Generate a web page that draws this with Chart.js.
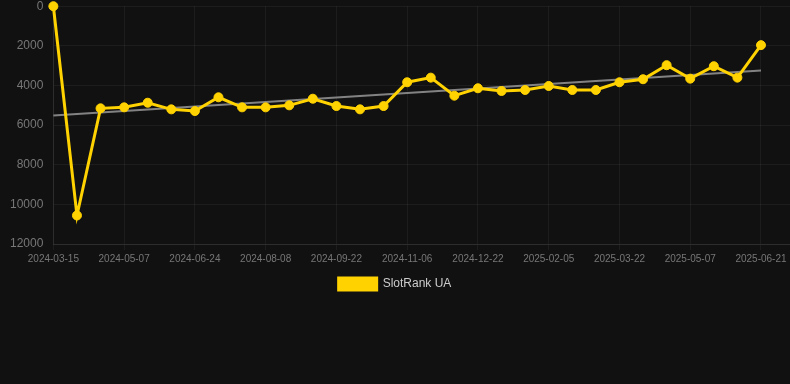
<!DOCTYPE html>
<html>
<head>
<meta charset="utf-8">
<script src="https://cdn.jsdelivr.net/npm/chart.js@4.4.0/dist/chart.umd.min.js"></script>
<style>
  html, body { margin: 0; padding: 0; background: #111111; overflow: hidden; }
  #wrap { position: relative; top: -11px; width: 790px; height: 311px; }
</style>
</head>
<body>
<div id="wrap"><canvas id="c"></canvas></div>
<script>
const dates = [
  "2024-03-15","2024-04-05","2024-04-22","2024-05-07","2024-05-23","2024-06-08","2024-06-24",
  "2024-07-09","2024-07-24","2024-08-08","2024-08-23","2024-09-07","2024-09-22","2024-10-07",
  "2024-10-22","2024-11-06","2024-11-21","2024-12-07","2024-12-22","2025-01-06","2025-01-21",
  "2025-02-05","2025-02-20","2025-03-07","2025-03-22","2025-04-06","2025-04-22","2025-05-07",
  "2025-05-22","2025-06-06","2025-06-21"
];
const rankUA = [
  1, 10560, 5154, 5104, 4871, 5205, 5291, 4597, 5104, 5104, 5003, 4668, 5038, 5205, 5038,
  3838, 3605, 4516, 4142, 4278, 4228, 4025, 4228, 4228, 3838, 3686, 2977, 3656, 3028, 3605, 1965
];
const yTicks = [0, 2000, 4000, 6000, 8000, 10000, 12000];
const seriesName = "SlotRank UA";

// least-squares trend line computed from the series
const n = rankUA.length;
const mx = (n - 1) / 2;
const my = rankUA.reduce((a, b) => a + b, 0) / n;
let sxy = 0, sxx = 0;
rankUA.forEach((v, i) => { sxy += (i - mx) * (v - my); sxx += (i - mx) * (i - mx); });
const slope = sxy / sxx;
const trend = rankUA.map((_, i) => my + slope * (i - mx));

const gold = '#ffd200';
new Chart(document.getElementById('c'), {
  type: 'line',
  data: {
    labels: dates,
    datasets: [
      {
        label: seriesName,
        data: rankUA,
        borderColor: gold,
        backgroundColor: gold,
        borderWidth: 3,
        pointRadius: 4.5,
        pointBorderWidth: 1,
        pointHoverRadius: 4.5,
        pointBackgroundColor: gold,
        pointBorderColor: gold,
        tension: 0,
        clip: false,
        order: 1
      },
      {
        label: 'trend',
        data: trend,
        borderColor: 'rgba(150,150,150,0.85)',
        borderWidth: 2,
        pointRadius: 0,
        fill: false,
        order: 2
      }
    ]
  },
  options: {
    responsive: true,
    maintainAspectRatio: false,
    animation: false,
    layout: { autoPadding: false, padding: { top: 0, right: 0, left: 0, bottom: 0 } },
    plugins: {
      legend: {
        position: 'bottom',
        labels: {
          color: '#cccccc',
          font: { family: 'Liberation Sans, Arial, sans-serif', size: 12 },
          boxWidth: 38,
          boxHeight: 12,
          filter: item => item.text !== 'trend'
        }
      },
      tooltip: { enabled: false }
    },
    scales: {
      x: {
        // leave a little empty room after the last category, as in the reference
        afterBuildTicks: axis => { axis._valueRange = (dates.length - 1) + 1.23; },
        grid: { color: 'rgba(255,255,255,0.05)', tickLength: 6 },
        border: { color: 'rgba(255,255,255,0.08)' },
        ticks: {
          color: '#777777',
          font: { family: 'Liberation Sans, Arial, sans-serif', size: 10 },
          maxRotation: 0,
          autoSkip: false,
          callback: function(val, idx) { return (idx % 3 === 0 && idx < dates.length) ? dates[idx] : null; }
        }
      },
      y: {
        reverse: true,
        min: yTicks[0],
        max: yTicks[yTicks.length - 1],
        afterBuildTicks: axis => { axis.ticks = yTicks.map(v => ({ value: v })); },
        grid: { color: 'rgba(255,255,255,0.05)', drawTicks: false },
        border: { color: 'rgba(255,255,255,0.08)' },
        ticks: {
          color: '#777777',
          padding: 10,
          font: { family: 'Liberation Sans, Arial, sans-serif', size: 12 },
          callback: v => String(v)
        }
      }
    }
  }
});
</script>
</body>
</html>
